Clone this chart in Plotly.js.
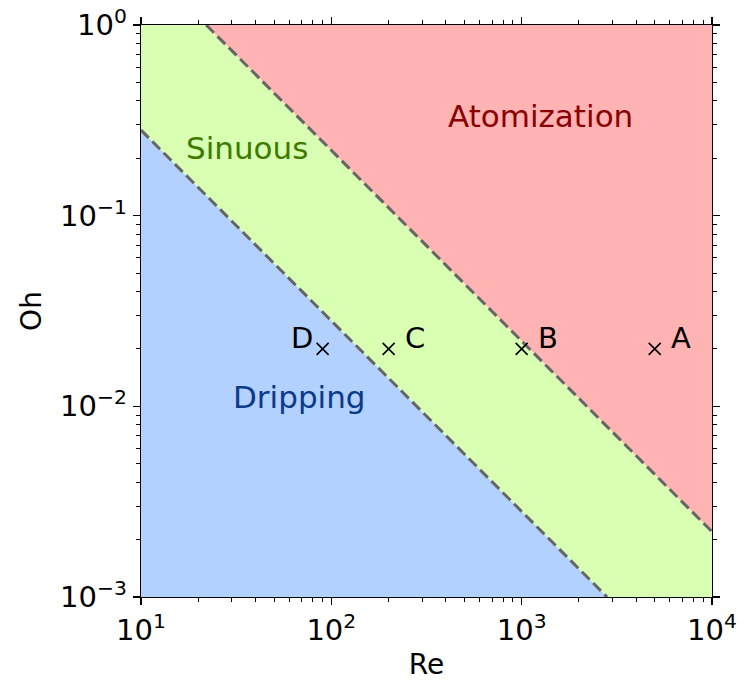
<!DOCTYPE html>
<html><head><meta charset="utf-8">
<script src="https://cdn.plot.ly/plotly-3.0.1.min.js"></script>
<style>html,body{margin:0;padding:0;background:#fff}#chart{width:743px;height:682px}</style>
</head><body><div id="chart"></div>
<script>
// Regime boundaries (Oh = c / Re)
const lowerRe = [10, 2810];
const lowerOh = [0.281, 0.001];
const upperRe = [22, 10000];
const upperOh = [1, 0.0022];
// Operating points
const ptRe = [5000, 1000, 200, 90];
const ptOh = [0.02, 0.02, 0.02, 0.02];
const ptLabels = ['A', 'B', 'C', 'D'];
// Region labels
const regionNames = ['Atomization', 'Sinuous', 'Dripping'];
const regionRe = [1262, 36, 68.4];
const regionOh = [0.333, 0.226, 0.0112];
const regionColors = ['#8b0000', '#3d7a00', '#0a3a8a'];
// Axis ticks
const xTicks = [10, 100, 1000, 10000];
const xTickText = ['10<sup>1</sup>', '10<sup>2</sup>', '10<sup>3</sup>', '10<sup>4</sup>'];
const yTicks = [0.001, 0.01, 0.1, 1];
const yTickText = ['10<sup>−3</sup>', '10<sup>−2</sup>', '10<sup>−1</sup>', '10<sup>0</sup>'];

const xMin = 10, xMax = 10000, yMin = 0.001, yMax = 1;

function minorVals(lo, hi) {
  const v = [];
  for (let d = lo; d < hi * 0.999; d *= 10) for (let k = 2; k <= 9; k++) v.push(d * k);
  return v;
}

const traces = [
  { // Dripping (blue)
    x: [xMin, lowerRe[0], lowerRe[1], xMin], y: [yMin, lowerOh[0], lowerOh[1], yMin],
    fill: 'toself', fillcolor: '#b3d1ff', mode: 'none', hoverinfo: 'skip', showlegend: false
  },
  { // Sinuous (green)
    x: [lowerRe[0], xMin, upperRe[0], upperRe[1], xMax, lowerRe[1], lowerRe[0]],
    y: [lowerOh[0], yMax, upperOh[0], upperOh[1], yMin, lowerOh[1], lowerOh[0]],
    fill: 'toself', fillcolor: '#d9ffb3', mode: 'none', hoverinfo: 'skip', showlegend: false
  },
  { // Atomization (red)
    x: [upperRe[0], xMax, upperRe[1], upperRe[0]], y: [upperOh[0], yMax, upperOh[1], upperOh[0]],
    fill: 'toself', fillcolor: '#ffb3b3', mode: 'none', hoverinfo: 'skip', showlegend: false
  },
  { x: lowerRe, y: lowerOh, mode: 'lines', line: {color: '#666666', width: 3, dash: '11px,5px'}, showlegend: false },
  { x: upperRe, y: upperOh, mode: 'lines', line: {color: '#666666', width: 3, dash: '11px,5px'}, showlegend: false },
  { x: ptRe, y: ptOh, mode: 'markers', marker: {symbol: 'x-thin-open', size: 12, color: '#000', line: {color: '#000', width: 1.6}}, showlegend: false }
];

const annotations = [];
ptLabels.forEach((t, i) => {
  const left = t === 'D';
  annotations.push({
    x: Math.log10(ptRe[i]), y: Math.log10(ptOh[i]), text: t, showarrow: false,
    xanchor: left ? 'right' : 'left', yanchor: 'middle',
    xshift: left ? -8 : 14, yshift: 11,
    font: {family: 'DejaVu Sans', size: 29, color: '#000'}
  });
});
regionNames.forEach((t, i) => {
  annotations.push({
    x: Math.log10(regionRe[i]), y: Math.log10(regionOh[i]), text: t, showarrow: false,
    xanchor: 'center', yanchor: 'middle',
    font: {family: 'DejaVu Sans', size: 31, color: regionColors[i]}
  });
});

const axisCommon = {
  type: 'log', showgrid: false, zeroline: false, showline: true, linecolor: '#000', linewidth: 1.3,
  mirror: 'ticks', ticks: 'outside', ticklen: 7, tickwidth: 1.3, tickcolor: '#000',
  tickmode: 'array', tickfont: {family: 'DejaVu Sans', size: 29, color: '#000'}
};

const layout = {
  width: 743, height: 682,
  margin: {l: 141, r: 31, t: 25, b: 85},
  paper_bgcolor: '#fff', plot_bgcolor: '#fff',
  font: {family: 'DejaVu Sans', color: '#000'},
  xaxis: Object.assign({}, axisCommon, {
    range: [Math.log10(xMin), Math.log10(xMax)], tickvals: xTicks, ticktext: xTickText,
    minor: {tickmode: 'array', tickvals: minorVals(xMin, xMax), ticks: 'outside', ticklen: 4, tickwidth: 1, tickcolor: '#000'},
    title: {text: 'Re', font: {family: 'DejaVu Sans', size: 28}, standoff: 8}
  }),
  yaxis: Object.assign({}, axisCommon, {
    range: [Math.log10(yMin), Math.log10(yMax)], tickvals: yTicks, ticktext: yTickText,
    minor: {tickmode: 'array', tickvals: minorVals(yMin, yMax), ticks: 'outside', ticklen: 4, tickwidth: 1, tickcolor: '#000'},
    title: {text: 'Oh', font: {family: 'DejaVu Sans', size: 28}, standoff: 10}
  }),
  annotations: annotations
};

Plotly.newPlot('chart', traces, layout, {displayModeBar: false, staticPlot: true});
</script></body></html>
